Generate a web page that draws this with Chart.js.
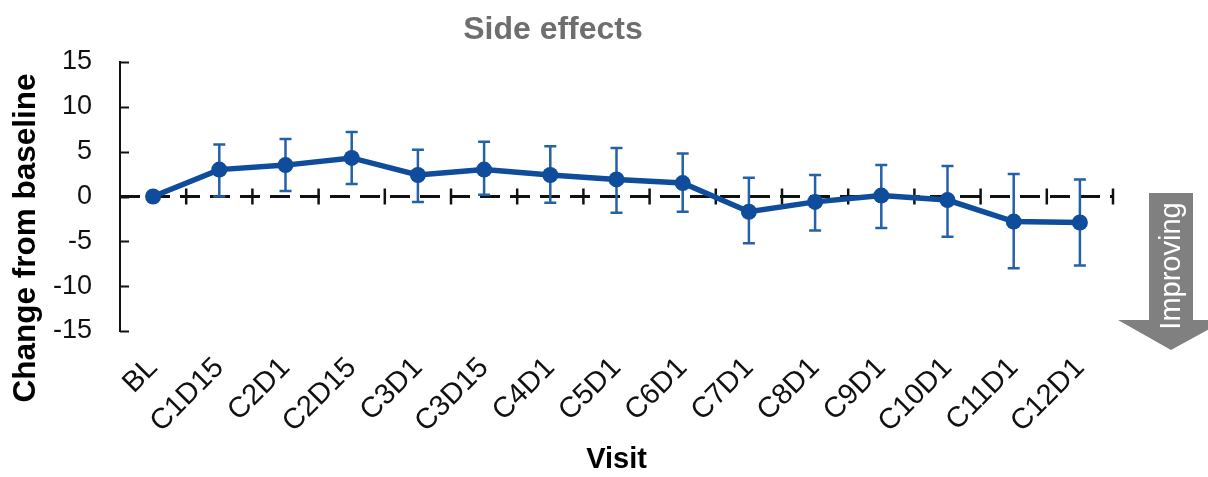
<!DOCTYPE html>
<html>
<head>
<meta charset="utf-8">
<script src="https://cdn.jsdelivr.net/npm/chart.js@4.4.1/dist/chart.umd.min.js"></script>
<style>
  html, body { margin: 0; padding: 0; background: #fff; }
  #wrap { width: 1208px; height: 477px; }
</style>
</head>
<body>
<div id="wrap"><canvas id="chart" width="1208" height="477"></canvas></div>
<script>
// visits and change-from-baseline summary
const visits = ['BL', 'C1D15', 'C2D1', 'C2D15', 'C3D1', 'C3D15', 'C4D1', 'C5D1', 'C6D1', 'C7D1', 'C8D1', 'C9D1', 'C10D1', 'C11D1', 'C12D1'];
const meanChange = [0, 3.0, 3.5, 4.3, 2.4, 3.0, 2.4, 1.9, 1.5, -1.7, -0.6, 0.1, -0.4, -2.8, -2.9];
const upperBound = [null, 5.8, 6.4, 7.2, 5.2, 6.1, 5.6, 5.4, 4.8, 2.1, 2.4, 3.5, 3.4, 2.5, 1.9];
const lowerBound = [null, 0.0, 0.6, 1.4, -0.6, 0.2, -0.7, -1.8, -1.7, -5.2, -3.8, -3.5, -4.5, -8.0, -7.7];
const yTicks = [-15, -10, -5, 0, 5, 10, 15];

const FONT = '"Liberation Sans", Arial, sans-serif';
const LINE_BLUE = '#0f4c9b';
const BAR_BLUE = '#2461a8';

// zero reference line, error bars, y ticks and the side annotations
const extras = {
  id: 'extras',
  beforeDatasetsDraw(chart) {
    const { ctx, chartArea: area, scales: { x, y } } = chart;
    const y0 = y.getPixelForValue(0);
    ctx.save();

    // inward ticks on the y axis
    ctx.strokeStyle = '#111';
    ctx.lineWidth = 2;
    yTicks.forEach(v => {
      const py = Math.round(y.getPixelForValue(v)) + 0.5;
      ctx.beginPath();
      ctx.moveTo(area.left, py);
      ctx.lineTo(area.left + 9, py);
      ctx.stroke();
    });

    // dashed zero line
    ctx.lineWidth = 3;
    ctx.setLineDash([20, 10]);
    ctx.beginPath();
    ctx.moveTo(area.left, y0);
    ctx.lineTo(area.right, y0);
    ctx.stroke();
    ctx.setLineDash([]);

    // category boundary ticks crossing the zero line
    const half = (x.getPixelForValue(1) - x.getPixelForValue(0)) / 2;
    ctx.lineWidth = 2.5;
    for (let i = 0; i < visits.length; i++) {
      const bx = x.getPixelForValue(i) + half;
      ctx.beginPath();
      ctx.moveTo(bx, y0 - 8);
      ctx.lineTo(bx, y0 + 8);
      ctx.stroke();
    }

    // error bars
    ctx.strokeStyle = BAR_BLUE;
    ctx.lineWidth = 2.5;
    visits.forEach((v, i) => {
      if (upperBound[i] == null) return;
      const px = x.getPixelForValue(i);
      const top = y.getPixelForValue(upperBound[i]);
      const bot = y.getPixelForValue(lowerBound[i]);
      ctx.beginPath();
      ctx.moveTo(px, top);
      ctx.lineTo(px, bot);
      ctx.moveTo(px - 6, top);
      ctx.lineTo(px + 6, top);
      ctx.moveTo(px - 6, bot);
      ctx.lineTo(px + 6, bot);
      ctx.stroke();
    });
    ctx.restore();
  },
  afterDraw(chart) {
    const { ctx } = chart;
    ctx.save();

    // title
    ctx.fillStyle = '#6e6e6e';
    ctx.font = 'bold 32px ' + FONT;
    ctx.textAlign = 'center';
    ctx.textBaseline = 'middle';
    ctx.fillText('Side effects', 553, 30);

    // y axis title
    ctx.save();
    ctx.translate(26, 238);
    ctx.rotate(-Math.PI / 2);
    ctx.fillStyle = '#000';
    ctx.font = 'bold 31.5px ' + FONT;
    ctx.fillText('Change from baseline', 0, 0);
    ctx.restore();

    // "Improving" arrow
    ctx.fillStyle = '#808080';
    ctx.beginPath();
    ctx.moveTo(1149, 193);
    ctx.lineTo(1193, 193);
    ctx.lineTo(1193, 320);
    ctx.lineTo(1226, 320);
    ctx.lineTo(1171, 350);
    ctx.lineTo(1118, 320);
    ctx.lineTo(1149, 320);
    ctx.closePath();
    ctx.fill();
    ctx.save();
    ctx.translate(1172, 266);
    ctx.rotate(-Math.PI / 2);
    ctx.fillStyle = '#fff';
    ctx.font = '29px ' + FONT;
    ctx.fillText('Improving', 0, 0);
    ctx.restore();

    ctx.restore();
  }
};

new Chart(document.getElementById('chart'), {
  type: 'line',
  data: {
    labels: visits,
    datasets: [{
      data: meanChange,
      borderColor: LINE_BLUE,
      backgroundColor: LINE_BLUE,
      borderWidth: 5.5,
      pointRadius: 8,
      pointBorderWidth: 0,
      pointBackgroundColor: LINE_BLUE,
      tension: 0
    }]
  },
  options: {
    responsive: false,
    animation: false,
    devicePixelRatio: 1,
    layout: { padding: { top: 62, right: 95, left: 0, bottom: 0 } },
    plugins: {
      legend: { display: false },
      tooltip: { enabled: false },
      title: { display: false }
    },
    scales: {
      x: {
        type: 'category',
        offset: true,
        border: { display: false },
        grid: { display: false, drawTicks: false },
        ticks: {
          autoSkip: false,
          minRotation: 45,
          maxRotation: 45,
          padding: 20,
          color: '#111',
          font: { family: FONT, size: 29 }
        },
        title: {
          display: true,
          text: 'Visit',
          color: '#000',
          font: { family: FONT, size: 29, weight: 'bold' },
          padding: { top: 0, bottom: 0 }
        },
        afterFit(scale) { scale.height = 146; }
      },
      y: {
        min: -15,
        max: 15,
        border: { display: true, color: '#111', width: 2 },
        grid: { display: false, drawTicks: false },
        afterBuildTicks(scale) { scale.ticks = yTicks.map(v => ({ value: v })); },
        ticks: {
          padding: 28,
          color: '#111',
          font: { family: FONT, size: 27 }
        },
        afterFit(scale) { scale.width = 120; }
      }
    }
  },
  plugins: [extras]
});
</script>
</body>
</html>
